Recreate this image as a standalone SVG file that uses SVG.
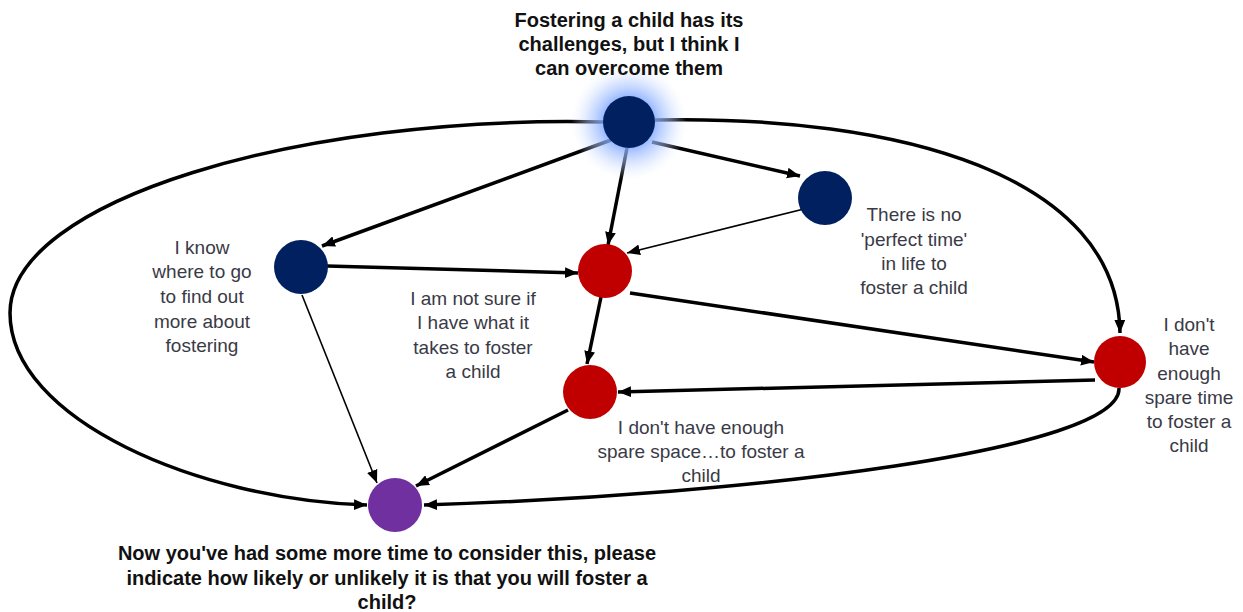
<svg xmlns="http://www.w3.org/2000/svg" width="1243" height="612" viewBox="0 0 1243 612">
<defs>
<marker id="ah" viewBox="0 0 12 10" refX="12" refY="5" markerWidth="13" markerHeight="11" markerUnits="userSpaceOnUse" orient="auto">
<path d="M0,0 L12,5 L0,10 z" fill="#000"/>
</marker>
<radialGradient id="glow">
<stop offset="0.42" stop-color="#7fa8ff" stop-opacity="0.85"/>
<stop offset="0.7" stop-color="#b3cbff" stop-opacity="0.5"/>
<stop offset="1" stop-color="#e3ecff" stop-opacity="0"/>
</radialGradient>
</defs>
<style>
.e{fill:none;stroke:#000;stroke-width:3.5;marker-end:url(#ah)}
.t{stroke-width:1.6}
.navy{fill:#002060}
.red{fill:#c00000}
.purple{fill:#7030a0}
.lbl{font-family:"Liberation Sans",Arial,sans-serif;font-size:19px;fill:#3a3a46;text-anchor:middle}
.bold{font-family:"Liberation Sans",Arial,sans-serif;font-size:20px;font-weight:bold;fill:#111;text-anchor:middle}
</style>
<rect width="1243" height="612" fill="#fff"/>
<g id="connectors">
<path class="e" d="M603,122 C300,115 10,200 10,313 C10,420 200,500 367,505"/>
<path class="e" d="M655,120 C900,115 1118,175 1120,333"/>
<path class="e" d="M611,140 L322,246"/>
<path class="e" d="M627,148 L608,245"/>
<path class="e" d="M652,142 L800,176"/>
<path class="e t" d="M812,207 L627,253"/>
<path class="e" d="M327,266 L578,273"/>
<path class="e t" d="M302,295 L377,483"/>
<path class="e" d="M630,293 L1094,362"/>
<path class="e" d="M601,297 L587,364"/>
<path class="e" d="M1095,380 L618,392"/>
<path class="e" d="M568,410 L416,486"/>
<path class="e" d="M1119,388 C1122,450 750,495 424,505"/>
</g>
<g id="n-top">
<circle cx="629" cy="122" r="58" fill="url(#glow)"/>
<circle class="navy" cx="629" cy="122" r="26"/>
<text class="bold" x="629" y="27">Fostering a child has its</text>
<text class="bold" x="629" y="51">challenges, but I think I</text>
<text class="bold" x="629" y="75">can overcome them</text>
</g>
<g id="n-know">
<circle class="navy" cx="301" cy="267" r="27"/>
<text class="lbl" x="202" y="254">I know</text>
<text class="lbl" x="202" y="278">where to go</text>
<text class="lbl" x="202" y="303">to find out</text>
<text class="lbl" x="202" y="328">more about</text>
<text class="lbl" x="202" y="352">fostering</text>
</g>
<g id="n-perfect">
<circle class="navy" cx="825" cy="198" r="27"/>
<text class="lbl" x="914" y="221">There is no</text>
<text class="lbl" x="914" y="246">'perfect time'</text>
<text class="lbl" x="914" y="270">in life to</text>
<text class="lbl" x="914" y="294">foster a child</text>
</g>
<g id="n-notsure">
<circle class="red" cx="605" cy="271" r="27"/>
<text class="lbl" x="473" y="305">I am not sure if</text>
<text class="lbl" x="473" y="329">I have what it</text>
<text class="lbl" x="473" y="354">takes to foster</text>
<text class="lbl" x="473" y="378">a child</text>
</g>
<g id="n-sparetime">
<circle class="red" cx="1120" cy="362" r="26"/>
<text class="lbl" x="1189" y="331">I don't</text>
<text class="lbl" x="1189" y="355">have</text>
<text class="lbl" x="1189" y="380">enough</text>
<text class="lbl" x="1189" y="404">spare time</text>
<text class="lbl" x="1189" y="428">to foster a</text>
<text class="lbl" x="1189" y="452">child</text>
</g>
<g id="n-sparespace">
<circle class="red" cx="590" cy="392" r="27"/>
<text class="lbl" x="701" y="434">I don't have enough</text>
<text class="lbl" x="701" y="458">spare space…to foster a</text>
<text class="lbl" x="701" y="482">child</text>
</g>
<g id="n-foster">
<circle class="purple" cx="395" cy="505" r="27"/>
<text class="bold" x="387" y="560">Now you've had some more time to consider this, please</text>
<text class="bold" x="387" y="585">indicate how likely or unlikely it is that you will foster a</text>
<text class="bold" x="387" y="609">child?</text>
</g>
</svg>
